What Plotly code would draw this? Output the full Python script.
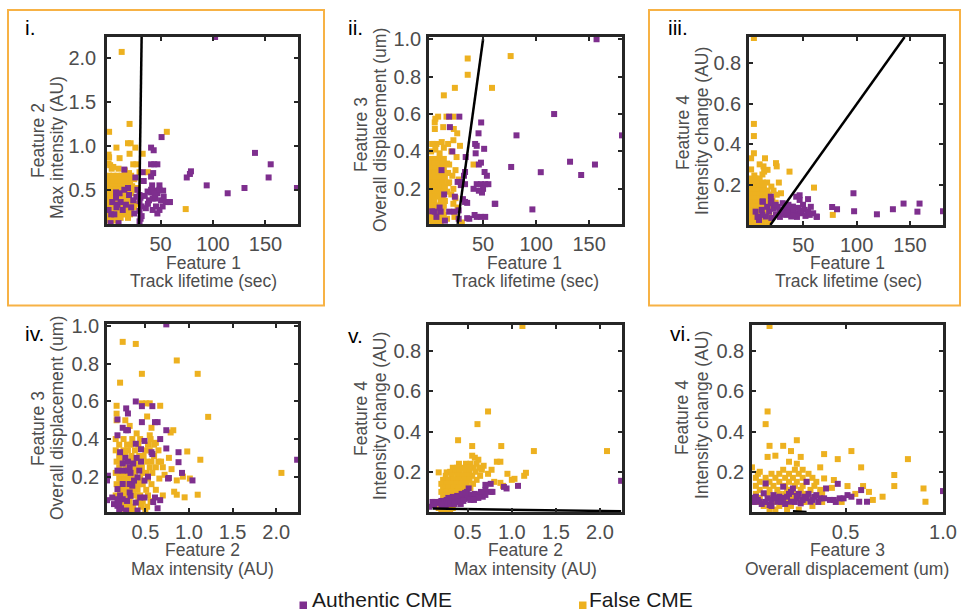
import plotly.graph_objects as go

W, H = 961, 611
FONT = "Liberation Sans, Arial, sans-serif"
PURPLE = "#7E2F8E"
YELLOW = "#EDB120"
AXC = "#262626"
TXT = "#4D4D4D"
ORANGE = "#F7B245"

# ---------------- data ----------------
# Panel i : Feature 1 (Track lifetime, sec) vs Feature 2 (Max intensity, AU)
P1_AUTH = [(102,2.24),(51,1.10),(140,0.92),(155,0.79),(153,0.64),(180,0.52),(130,0.52),(114,0.46),(94,0.55),
           (79,0.71),(78,0.68),(75,0.64),(41,0.98),(43.5,0.95),(41,0.79),(44,0.79),(47,0.79),(33,0.70),(43,0.69),
           (41,0.65),(49,0.55),(42,0.55),(45,0.49),(52.5,0.49),(41,0.47),(59,0.36),(31,0.17),(2.4,0.12),(10,0.12),
           (15.5,0.73),(26,0.64),(15.5,0.50),(20,0.44),(7.6,0.47),(7.6,0.41),(9,0.33),(0.5,0.27),(3,0.22),(6,0.22),
           (39,0.38),(42.5,0.40),(47,0.46),(50.5,0.38),(55,0.36),(45.7,0.31),(49,0.27),(47,0.23),(42.5,0.27),(36,0.29),
           (52,0.31),(58,0.36),(41,0.50),(44.4,0.46),(49,0.50),(37.7,0.48),(30,0.44),(31,0.41),(30,0.37),(32,0.31),
           (30,0.26),(32,0.20),(30,0.14),(27,0.42),(24,0.38),(12,0.36),(17,0.33),(22,0.30),(14,0.27),(25,0.23),
           (11,0.46),(19,0.52),(35,0.43),(38,0.34),(45,0.40),(53,0.42),(8,0.30),(4,0.36),(28,0.50),(34,0.60)]
P1_FALSE = [(13,2.07),(20.5,1.25),(1,1.16),(56,1.16),(8,0.98),(19,1.03),(21.5,1.03),(26,0.98),(20.5,0.91),(33,0.91),
            (0.5,0.90),(1,0.87),(11,0.86),(24,0.79),(27,0.79),(2,0.78),(5,0.76),(74,0.28),(38,0.70),(21,0.58),
            (28,0.52),(10,0.74),(3.5,0.74),(16,0.72),(20,0.69),(30,0.70),(0.5,0.80)]
P1_FALSE_ROWS = {0.66: [1,5,9,13,18,22], 0.62: [0.5,4,8,12,16,21,25], 0.58: [1,5,9,13,17],
                 0.54: [0.5,4,8,12,16,23], 0.50: [1,5,9,13,24], 0.46: [0.5,4,8,14,18,22],
                 0.42: [1,5,10,15,19], 0.38: [0.5,4,8,15,20], 0.34: [1,5,10,14,21,26],
                 0.30: [0.5,4,11,16,19,25], 0.26: [1,5,9,18,22], 0.22: [0.5,9,13,17,21],
                 0.18: [1,4,8,12,19], 0.15: [0.5,3,7]}
P1_BOUNDARY_X = [29.5, 32.0]
P1_BOUNDARY_Y = [0.11, 2.24]

# Panel ii : Feature 1 vs Feature 3 (Overall displacement, um)
P2_AUTH = [(157,1.0),(117,0.60),(81.5,0.486),(181,0.486),(132,0.345),(155.5,0.33),(76.5,0.317),(104.4,0.289),
           (142.5,0.274),(96.5,0.09),(61,0.12),(18,0.586),(27.6,0.586),(18.7,0.53),(48.2,0.555),(45.7,0.497),
           (42.5,0.44),(44,0.43),(51,0.414),(43,0.39),(21,0.40),(33.6,0.37),(46,0.33),(48,0.34),(10.8,0.30),
           (51.4,0.29),(53.6,0.27),(33,0.29),(32,0.27),(26,0.237),(29,0.22),(33,0.225),(30,0.237),(44,0.225),
           (48,0.225),(52,0.225),(55,0.225),(50,0.20),(49,0.18),(46,0.19),(41,0.20),(13.3,0.17),(23.4,0.158),
           (31,0.145),(33,0.13),(35,0.125),(61.5,0.12),(4.4,0.078),(10,0.078),(18,0.078),(23,0.078),(27,0.085),
           (42,0.06),(35,0.043),(37,0.04),(44,0.05),(48,0.05),(52,0.05),(6,0.05),(14,0.03),(27,0.04),(9,0.1),(2,0.08)]
P2_FALSE = [(35.5,0.897),(35.5,0.81),(76,0.91),(58.4,0.74),(23.4,0.74),(13,0.70),(7.6,0.586),(15.5,0.586),
            (21.9,0.586),(5,0.575),(4.4,0.555),(12.4,0.53),(22.4,0.52),(25.6,0.497),(4.5,0.52),(28.2,0.43),
            (41,0.33),(22,0.46),(17,0.44),(11,0.45),(6,0.44),(2,0.44),(20,0.40),(25,0.37),(18,0.33),(24,0.30),
            (21,0.27),(17,0.23),(22,0.20),(24,0.15),(22,0.12),(26,0.10),(23,0.05),(16,0.04),(30,0.02),(20,0.17),
            (27,0.25),(1,0.40),(5,0.41),(9,0.39),(13,0.42),(3,0.44)]
P2_FALSE_ROWS = {0.36: [1,5,9,13], 0.335: [0.5,4,8,12,16], 0.31: [1,5,9,13], 0.285: [0.5,4,8,12,17],
                 0.26: [1,5,9,14], 0.235: [0.5,4,8,12,18], 0.21: [1,5,10,14], 0.185: [0.5,4,9,13,16],
                 0.16: [1,5,8,12], 0.135: [0.5,4,10,14], 0.11: [1,6,9,13], 0.085: [0.5,4,8,12],
                 0.06: [1,5,9,13], 0.035: [0.5,4,8,12], 0.02: [2,6,10]}
P2_BOUNDARY_X = [26.0, 50.0]
P2_BOUNDARY_Y = [0.013, 1.0]

# Panel iii : Feature 1 vs Feature 4 (Intensity change, AU)
P3_AUTH = [(181,0.068),(97,0.157),(144,0.106),(159,0.106),(134,0.078),(157,0.066),(119,0.053),(97.6,0.068),
           (81.6,0.078),(77,0.089),(62.7,0.04),(12,0.116),(20,0.117),(19.5,0.14),(43.3,0.14),(46.5,0.124),
           (54.4,0.128),(46.5,0.147),(11.6,0.116),(19.5,0.108),(30.6,0.108),(32.2,0.083),(37,0.083),(40.2,0.091),
           (49.7,0.10),(51.3,0.075),(48.1,0.058),(54.4,0.066),(59.2,0.058),(62.4,0.042),(27.5,0.066),(24.3,0.05),
           (17.9,0.066),(14.8,0.042),(8.4,0.025),(5.2,0.066),(11.6,0.05),(33.8,0.05),(43.3,0.058),(38.6,0.042),
           (40.2,0.066),(22,0.08),(26,0.09),(29,0.075),(35,0.06),(41,0.075),(45,0.085),(52,0.045),(56,0.05),
           (36,0.1),(28,0.04),(16,0.09),(7,0.04),(44,0.04),(31,0.055),(24,0.1),(47,0.07),(57,0.09),(11,0.075),(20,0.035)]
P3_FALSE = [(3.6,0.925),(3.6,0.50),(3.6,0.44),(3.6,0.355),(1,0.33),(1,0.275),(14,0.33),(12.6,0.29),(25,0.29),
            (16.4,0.273),(13.2,0.264),(24.3,0.306),(37,0.264),(27,0.21),(29,0.157),(60,0.185),(77.6,0.05),
            (9,0.30),(4,0.245),(11.6,0.25)]
P3_FALSE_ROWS = {0.23: [1,5,9], 0.21: [0.5,4,8,12,16], 0.19: [1,5,9,13,20], 0.17: [0.5,4,8,12,16,22],
                 0.15: [1,5,9,13,18,25], 0.13: [0.5,4,8,12,16,21], 0.11: [1,5,9,15,24],
                 0.09: [0.5,4,8,12,19], 0.07: [1,5,9,13], 0.05: [0.5,4,8,18], 0.03: [1,5,10,15],
                 0.012: [0.5,4,8,12,17]}
P3_BOUNDARY_X = [19.0, 145.0]
P3_BOUNDARY_Y = [0.0, 0.93]

# Panel iv : Feature 2 vs Feature 3
P4_AUTH = [(0.74,1.01),(0.39,0.60),(0.28,0.563),(0.30,0.536),(0.46,0.575),(0.58,0.575),(0.18,0.504),(0.46,0.49),
           (0.61,0.49),(0.64,0.49),(0.24,0.46),(0.30,0.447),(0.28,0.447),(0.18,0.42),(0.74,0.447),(0.67,0.40),
           (0.49,0.39),(0.39,0.375),(0.45,0.346),(0.57,0.33),(0.58,0.32),(0.21,0.33),(0.88,0.33),(0.88,0.277),
           (0.74,0.35),(0.40,0.30),(0.45,0.28),(0.30,0.28),(0.24,0.27),(0.32,0.25),(2.24,0.29),(0.92,0.22),
           (1.04,0.18),(0.76,0.19),(0.07,0.205),(0.06,0.18),(0.18,0.232),(0.24,0.232),(0.30,0.232),(0.33,0.22),
           (0.43,0.232),(0.49,0.179),(0.24,0.161),(0.32,0.161),(0.37,0.179),(0.41,0.196),(0.35,0.152),(0.18,0.134),
           (0.32,0.116),(0.33,0.098),(0.06,0.075),(0.12,0.089),(0.18,0.08),(0.24,0.08),(0.29,0.071),(0.14,0.054),
           (0.18,0.045),(0.22,0.032),(0.39,0.062),(0.44,0.089),(0.49,0.089),(0.61,0.089),(0.67,0.075),(0.64,0.032),
           (0.77,0.193),(0.59,0.065),(0.28,0.02),(0.20,0.02),(0.41,0.02),(0.53,0.2),(0.36,0.27),(0.27,0.3),
           (0.2,0.06),(0.21,0.1)]
P4_FALSE = [(0.24,0.917),(0.39,0.906),(0.86,0.818),(0.46,0.747),(1.10,0.747),(0.21,0.70),(1.22,0.518),(2.06,0.22),
            (1.13,0.29),(0.98,0.334),(1.10,0.104),(0.95,0.09),(0.86,0.104),(0.86,0.18),(1.01,0.19),(0.82,0.447),
            (0.79,0.435),(0.67,0.577),(0.51,0.59),(0.46,0.59),(0.17,0.577),(0.17,0.535),(0.17,0.50),(0.55,0.59),
            (0.77,0.30),(0.70,0.25),(0.72,0.21),(0.80,0.24),(0.83,0.12),(0.93,0.2),(0.65,0.28),(0.55,0.42),
            (0.62,0.38),(0.32,0.47),(0.40,0.43),(0.27,0.50),(0.57,0.46),(0.52,0.52)]
P4_FALSE_ROWS = {0.40: [0.16,0.25,0.35,0.44,0.56], 0.37: [0.20,0.29,0.33,0.42,0.53,0.60],
                 0.34: [0.16,0.25,0.30,0.38,0.50,0.55,0.65], 0.31: [0.20,0.27,0.34,0.43,0.48,0.60],
                 0.28: [0.17,0.22,0.33,0.38,0.52,0.57,0.68], 0.25: [0.20,0.27,0.36,0.42,0.46,0.55,0.62],
                 0.22: [0.16,0.22,0.28,0.38,0.47,0.51,0.58], 0.19: [0.20,0.26,0.31,0.35,0.44,0.53,0.66],
                 0.16: [0.17,0.22,0.28,0.39,0.43,0.47,0.57], 0.13: [0.21,0.26,0.30,0.36,0.41,0.51,0.62],
                 0.10: [0.16,0.24,0.28,0.38,0.44,0.53,0.70], 0.07: [0.22,0.27,0.32,0.42,0.47,0.56],
                 0.04: [0.25,0.30,0.36,0.45,0.52], 0.015: [0.27,0.33,0.38,0.50]}

# Panel v : Feature 2 vs Feature 4
P5_AUTH = [(2.24,0.155),(1.07,0.13),(0.94,0.117),(0.91,0.125),(0.76,0.14),(0.76,0.10),(0.70,0.11),(0.70,0.135),
           (0.78,0.10),(0.64,0.085),(0.67,0.076),(0.60,0.084),(0.56,0.076),(0.49,0.10),(0.51,0.117),(0.48,0.068),
           (0.06,0.026),(0.10,0.05),(0.13,0.05),(0.15,0.045),(0.18,0.05),(0.20,0.055),(0.22,0.045),(0.24,0.05),
           (0.26,0.06),(0.28,0.045),(0.30,0.055),(0.32,0.06),(0.34,0.05),(0.36,0.065),(0.38,0.055),(0.40,0.07),
           (0.42,0.06),(0.44,0.075),(0.46,0.065),(0.48,0.08),(0.50,0.07),(0.52,0.085),(0.55,0.075),(0.58,0.09),
           (0.62,0.07),(0.25,0.035),(0.30,0.04),(0.35,0.04),(0.40,0.05),(0.45,0.055),(0.33,0.075),(0.38,0.08),
           (0.43,0.09),(0.47,0.095),(0.20,0.035),(0.28,0.07),(0.53,0.06),(0.57,0.06),(0.12,0.035),(0.70,0.085),
           (0.65,0.10),(0.42,0.04)]
P5_FALSE = [(1.12,0.925),(0.73,0.50),(0.61,0.437),(0.39,0.357),(0.55,0.328),(0.88,0.328),(1.25,0.303),(2.08,0.303),
            (0.55,0.28),(0.58,0.27),(0.62,0.26),(0.83,0.25),(0.87,0.25),(0.77,0.21),(0.95,0.19),(1.00,0.16),
            (1.03,0.165),(1.14,0.18),(1.16,0.195),(0.80,0.15),(0.87,0.145),(0.17,0.197),(0.26,0.197),(0.68,0.23),
            (0.73,0.19),(0.66,0.21),(0.90,0.13)]
P5_FALSE_ROWS = {0.24: [0.40,0.48,0.53,0.60], 0.22: [0.33,0.38,0.44,0.50,0.56,0.63],
                 0.20: [0.30,0.36,0.41,0.47,0.52,0.59], 0.18: [0.25,0.32,0.38,0.44,0.50,0.55,0.64],
                 0.16: [0.22,0.28,0.34,0.40,0.46,0.52,0.60], 0.14: [0.20,0.26,0.31,0.37,0.43,0.49,0.56],
                 0.12: [0.22,0.28,0.34,0.40,0.46,0.53], 0.10: [0.20,0.26,0.32,0.38,0.44],
                 0.08: [0.22,0.29,0.35], 0.02: [0.17,0.22,0.27,0.33], 0.008: [0.20,0.25,0.30]}
P5_BOUNDARY_X = [0.10, 2.24]
P5_BOUNDARY_Y = [0.017, 0.004]

# Panel vi : Feature 3 vs Feature 4
P6_AUTH = [(1.0,0.104),(0.46,0.14),(0.40,0.117),(0.30,0.15),(0.03,0.05),(0.04,0.076),(0.06,0.051),(0.08,0.093),
           (0.10,0.068),(0.11,0.035),(0.13,0.084),(0.15,0.051),(0.16,0.076),(0.18,0.126),(0.20,0.076),(0.22,0.051),
           (0.23,0.117),(0.25,0.068),(0.27,0.043),(0.29,0.076),(0.30,0.068),(0.32,0.051),(0.34,0.076),(0.35,0.084),
           (0.37,0.068),(0.39,0.068),(0.42,0.06),(0.47,0.068),(0.49,0.068),(0.51,0.084),(0.53,0.076),(0.57,0.051),
           (0.58,0.109),(0.61,0.051),(0.09,0.142),(0.05,0.06),(0.07,0.04),(0.09,0.05),(0.12,0.06),(0.14,0.07),
           (0.17,0.05),(0.19,0.04),(0.21,0.09),(0.24,0.05),(0.26,0.09),(0.28,0.06),(0.31,0.09),(0.33,0.06),
           (0.36,0.05),(0.44,0.06),(0.45,0.05),(0.22,0.10),(0.12,0.03),(0.03,0.07),(0.18,0.07),(0.25,0.08)]
P6_FALSE = [(0.11,0.925),(0.10,0.50),(0.09,0.437),(0.11,0.329),(0.18,0.329),(0.25,0.357),(0.10,0.274),(0.22,0.303),
            (0.27,0.274),(0.39,0.288),(0.46,0.263),(0.53,0.303),(0.58,0.222),(0.82,0.263),(0.02,0.222),(0.75,0.184),
            (0.75,0.129),(0.90,0.117),(0.91,0.051),(0.69,0.076),(0.59,0.129),(0.51,0.129),(0.44,0.159),(0.39,0.167),
            (0.37,0.222),(0.25,0.24),(0.21,0.25),(0.06,0.20),(0.14,0.28),(0.62,0.10),(0.55,0.09),(0.48,0.05),
            (0.64,0.06),(0.43,0.12)]
P6_FALSE_ROWS = {0.21: [0.18,0.24,0.28], 0.19: [0.05,0.12,0.16,0.21,0.26,0.31],
                 0.17: [0.04,0.09,0.14,0.19,0.23,0.28,0.33], 0.15: [0.06,0.11,0.16,0.21,0.25,0.30,0.35],
                 0.13: [0.04,0.09,0.13,0.19,0.24,0.28,0.34], 0.11: [0.06,0.11,0.15,0.20,0.27,0.32,0.37],
                 0.09: [0.04,0.10,0.16,0.19,0.24,0.29,0.38], 0.07: [0.06,0.12,0.22,0.27,0.33],
                 0.05: [0.04,0.13,0.20,0.29,0.38], 0.03: [0.08,0.16,0.22,0.33], 0.012: [0.11,0.14,0.20,0.26]}
P6_BOUNDARY_X = [0.23, 0.30]
P6_BOUNDARY_Y = [0.004, 0.0]

# tick labels
TICKS_F1 = [50, 100, 150]
TICKS_F1_TEXT = ["50", "100", "150"]
TICKS_F2 = [0.5, 1.0, 1.5, 2.0]
TICKS_F2_TEXT = ["0.5", "1.0", "1.5", "2.0"]
TICKS_F3 = [0.2, 0.4, 0.6, 0.8, 1.0]
TICKS_F3_TEXT = ["0.2", "0.4", "0.6", "0.8", "1.0"]
TICKS_F3X = [0.5, 1.0]
TICKS_F3X_TEXT = ["0.5", "1.0"]
TICKS_F4 = [0.2, 0.4, 0.6, 0.8]
TICKS_F4_TEXT = ["0.2", "0.4", "0.6", "0.8"]

FEAT = {1: ("Feature 1", "Track lifetime (sec)"), 2: ("Feature 2", "Max intensity (AU)"),
        3: ("Feature 3", "Overall displacement (um)"), 4: ("Feature 4", "Intensity change (AU)")}
RANGE = {1: [-1, 181], 2: [0.06, 2.25], 3: [0.012, 1.012], 4: [0.0, 0.93]}

# ---------------- layout geometry (pixels) ----------------
PANELS = [
    dict(lab="i.", fx=1, fy=2, auth=P1_AUTH, false=P1_FALSE, rows=P1_FALSE_ROWS, bx=P1_BOUNDARY_X, by=P1_BOUNDARY_Y,
         box=(107, 298, 37, 224), xt=(TICKS_F1, TICKS_F1_TEXT), yt=(TICKS_F2, TICKS_F2_TEXT), yr=[0.11, 2.24],
         labpos=(23, 27), xtit=(203, 263, 203, 281), ytit=(38, 141, 57, 148)),
    dict(lab="ii.", fx=1, fy=3, auth=P2_AUTH, false=P2_FALSE, rows=P2_FALSE_ROWS, bx=P2_BOUNDARY_X, by=P2_BOUNDARY_Y,
         box=(429, 622, 37, 224), xt=(TICKS_F1, TICKS_F1_TEXT), yt=(TICKS_F3, TICKS_F3_TEXT), yr=None,
         labpos=(346, 27), xtit=(524, 263, 525, 281), ytit=(361, 135, 380, 130)),
    dict(lab="iii.", fx=1, fy=4, auth=P3_AUTH, false=P3_FALSE, rows=P3_FALSE_ROWS, bx=P3_BOUNDARY_X, by=P3_BOUNDARY_Y,
         box=(749, 943, 37, 225), xt=(TICKS_F1, TICKS_F1_TEXT), yt=(TICKS_F4, TICKS_F4_TEXT), yr=None,
         labpos=(666, 27), xtit=(847, 263, 848, 281), ytit=(683, 133, 702, 131)),
    dict(lab="iv.", fx=2, fy=3, auth=P4_AUTH, false=P4_FALSE, rows=P4_FALSE_ROWS, bx=None, by=None,
         box=(107, 298, 324, 512), xt=(TICKS_F2, TICKS_F2_TEXT), yt=(TICKS_F3, TICKS_F3_TEXT), yr=None,
         labpos=(23, 333), xtit=(202, 550, 202, 569), ytit=(38, 429, 57, 418)),
    dict(lab="v.", fx=2, fy=4, auth=P5_AUTH, false=P5_FALSE, rows=P5_FALSE_ROWS, bx=P5_BOUNDARY_X, by=P5_BOUNDARY_Y,
         box=(429, 622, 325, 512), xt=(TICKS_F2, TICKS_F2_TEXT), yt=(TICKS_F4, TICKS_F4_TEXT), yr=None,
         labpos=(346, 335), xtit=(525, 550, 525, 569), ytit=(361, 419, 380, 416)),
    dict(lab="vi.", fx=3, fy=4, auth=P6_AUTH, false=P6_FALSE, rows=P6_FALSE_ROWS, bx=P6_BOUNDARY_X, by=P6_BOUNDARY_Y,
         box=(752, 943, 325, 512), xt=(TICKS_F3X, TICKS_F3X_TEXT), yt=(TICKS_F4, TICKS_F4_TEXT), yr=None,
         labpos=(668, 333), xtit=(847, 550, 847, 569), ytit=(682, 418, 702, 415)),
]
XRANGE_OVERRIDE = {3: [0.02, 1.0]}


def fx(p):
    return p / W


def fy(p):
    return 1 - p / H


fig = go.Figure()
layout = dict(width=W, height=H, margin=dict(l=0, r=0, t=0, b=0, autoexpand=False), paper_bgcolor="white",
              plot_bgcolor="white", showlegend=False, font=dict(family=FONT))
annotations = []
shapes = []

for i, p in enumerate(PANELS, start=1):
    xa = "x" if i == 1 else f"x{i}"
    ya = "y" if i == 1 else f"y{i}"
    x0, x1, y0, y1 = p["box"]
    xr = XRANGE_OVERRIDE.get(p["fx"], RANGE[p["fx"]]) if i == 6 else RANGE[p["fx"]]
    yr = p["yr"] if p["yr"] else RANGE[p["fy"]]
    common = dict(showline=True, linecolor=AXC, linewidth=2.5, mirror="ticks", ticks="inside", ticklen=4,
                  tickwidth=2, tickcolor=AXC, showgrid=False, zeroline=False, automargin=False,
                  tickfont=dict(size=20, color=TXT, family=FONT))
    layout["xaxis" if i == 1 else f"xaxis{i}"] = dict(common, domain=[fx(x0), fx(x1)], range=xr,
                                                      anchor=ya, tickvals=p["xt"][0], ticktext=p["xt"][1],
                                                      ticklabelstandoff=0)
    layout["yaxis" if i == 1 else f"yaxis{i}"] = dict(common, domain=[fy(y1), fy(y0)], range=yr,
                                                      anchor=xa, tickvals=p["yt"][0], ticktext=p["yt"][1],
                                                      ticklabelstandoff=4 if i == 1 else 1)
    # false CME
    fxs = [a for a, b in p["false"]]
    fys = [b for a, b in p["false"]]
    for yv, xs in p["rows"].items():
        fxs += xs
        fys += [yv] * len(xs)
    fig.add_trace(go.Scatter(x=fxs, y=fys, mode="markers", xaxis=xa, yaxis=ya, cliponaxis=False,
                             marker=dict(symbol="square", size=6, color=YELLOW, line=dict(width=0))))
    fig.add_trace(go.Scatter(x=[a for a, b in p["auth"]], y=[b for a, b in p["auth"]], mode="markers",
                             xaxis=xa, yaxis=ya, cliponaxis=False,
                             marker=dict(symbol="square", size=6, color=PURPLE, line=dict(width=0))))
    if p["bx"]:
        fig.add_trace(go.Scatter(x=p["bx"], y=p["by"], mode="lines", xaxis=xa, yaxis=ya,
                                 line=dict(color="black", width=2.5)))
    # panel label
    annotations.append(dict(text=p["lab"], x=fx(p["labpos"][0]), y=fy(p["labpos"][1]), xref="paper", yref="paper",
                            xanchor="left", yanchor="middle", showarrow=False,
                            font=dict(size=21, color="black", family=FONT)))
    t1, t2 = FEAT[p["fx"]]
    ax1, ay1, ax2, ay2 = p["xtit"]
    annotations.append(dict(text=t1, x=fx(ax1), y=fy(ay1), xref="paper", yref="paper", showarrow=False,
                            xanchor="center", yanchor="middle", borderpad=0,
                            font=dict(size=17.5, color=TXT, family=FONT)))
    annotations.append(dict(text=t2, x=fx(ax2), y=fy(ay2), xref="paper", yref="paper", showarrow=False,
                            xanchor="center", yanchor="middle", borderpad=0,
                            font=dict(size=17.5, color=TXT, family=FONT)))
    t1, t2 = FEAT[p["fy"]]
    bx1, by1, bx2, by2 = p["ytit"]
    annotations.append(dict(text=t1, x=fx(bx1), y=fy(by1), xref="paper", yref="paper", showarrow=False,
                            textangle=-90, xanchor="center", yanchor="middle", borderpad=0,
                            font=dict(size=17.5, color=TXT, family=FONT)))
    annotations.append(dict(text=t2, x=fx(bx2), y=fy(by2), xref="paper", yref="paper", showarrow=False,
                            textangle=-90, xanchor="center", yanchor="middle", borderpad=0,
                            font=dict(size=17.5, color=TXT, family=FONT)))

# highlight boxes around panels i and iii
for (a, b, c, d) in [(8, 324, 10, 305.5), (649, 960, 10, 305.5)]:
    shapes.append(dict(type="rect", xref="paper", yref="paper", x0=fx(a), x1=fx(b), y0=fy(d), y1=fy(c),
                       line=dict(color=ORANGE, width=2)))

# legend
LEGEND_NAMES = ["Authentic CME", "False CME"]
LEGEND_COLORS = [PURPLE, YELLOW]
for name, col, (sx, tx) in zip(LEGEND_NAMES, LEGEND_COLORS, [(299.5, 311), (579, 588)]):
    shapes.append(dict(type="rect", xref="paper", yref="paper", x0=fx(sx), x1=fx(sx + 7.5), y0=fy(609),
                       y1=fy(601.5), fillcolor=col, line=dict(width=0)))
    annotations.append(dict(text=name, x=fx(tx), y=fy(599.5), xref="paper", yref="paper", showarrow=False,
                            xanchor="left", yanchor="middle", borderpad=0,
                            font=dict(size=21, color="#1a1a1a", family=FONT)))

layout["annotations"] = annotations
layout["shapes"] = shapes
fig.update_layout(**layout)
fig.write_html("out.html")
